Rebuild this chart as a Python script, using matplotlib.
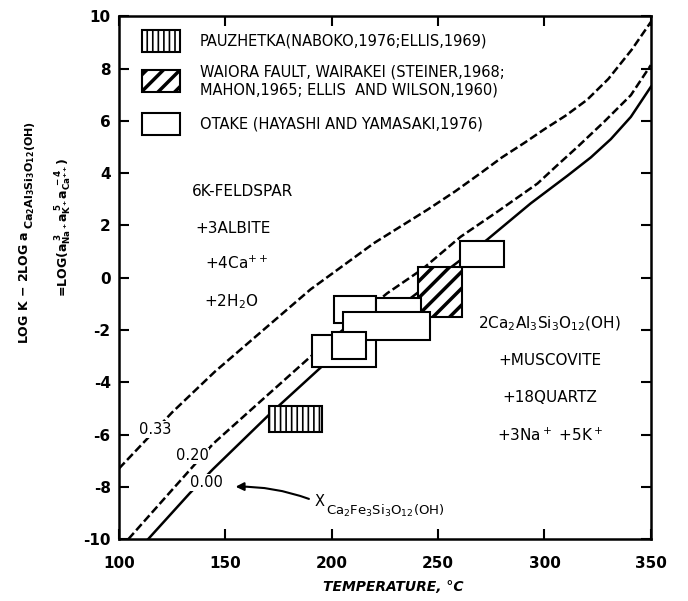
import numpy as np
import matplotlib.pyplot as plt
from matplotlib.patches import Rectangle

plt.rcParams['font.family'] = 'DejaVu Sans'
plt.rcParams['mathtext.default'] = 'regular'
plt.rcParams['axes.unicode_minus'] = False

# Equilibrium curves, labelled by mole fraction of the Fe end member
t_033 = [100, 125, 145, 165, 190, 220, 245, 258, 270, 280, 291, 300, 310, 320, 330, 341, 350]
v_033 = [-7.3, -5.15, -3.6, -2.2, -0.45, 1.33, 2.6, 3.3, 4.0, 4.6, 5.18, 5.68, 6.2, 6.8, 7.6, 8.72, 9.78]

t_020 = [104.4, 120, 144.4, 165, 189.9, 226, 242.5, 260.5, 277.8, 296.7, 306, 315.5, 328, 340.6, 350]
v_020 = [-10, -8.57, -6.34, -4.84, -3.03, -0.6, 0.32, 1.56, 2.52, 3.6, 4.3, 5.0, 5.96, 6.98, 8.13]

t_000 = [113.7, 133.2, 144.1, 170.7, 197.2, 273, 293.5, 310.8, 321.8, 331.2, 340.6, 350]
v_000 = [-10, -8.25, -7.33, -5.23, -3.26, 1.45, 2.84, 3.9, 4.6, 5.3, 6.15, 7.3]

# Field data ranges: temperature span and log value span
pauz_t = (170.5, 195.5)
pauz_v = (-5.9, -4.9)

waiora_t = (240.5, 261)
waiora_v = (-1.5, 0.4)

otake_t0 = [201, 221, 190.5, 205.5, 200, 260.5]
otake_t1 = [221, 242, 221, 246, 216, 281]
otake_lo = [-1.74, -1.6, -3.4, -2.4, -3.12, 0.42]
otake_hi = [-0.70, -0.76, -2.2, -1.3, -2.09, 1.40]

x_ticks = [100, 150, 200, 250, 300, 350]
y_ticks = [-10, -8, -6, -4, -2, 0, 2, 4, 6, 8, 10]

fig = plt.figure(figsize=(6.88, 6.01), dpi=100)
ax = fig.add_axes([0.173, 0.103, 0.773, 0.870])

lw = 1.8
ax.plot(t_000, v_000, color='black', lw=lw, zorder=2)
ax.plot(t_020, v_020, color='black', lw=lw, dashes=(3.3, 1.4), zorder=2)
ax.plot(t_033, v_033, color='black', lw=lw, dashes=(3.3, 1.4), zorder=2)

def box(t, v, hatch=None, hlw=1.0):
    r = Rectangle((t[0], v[0]), t[1] - t[0], v[1] - v[0], facecolor='white',
                  edgecolor='black', lw=1.5, hatch=hatch, zorder=3)
    try:
        r.set_hatch_linewidth(hlw)
    except AttributeError:
        pass
    ax.add_patch(r)
    return r

box(waiora_t, waiora_v, hatch='//', hlw=2.5)
for t0, t1, lo, hi in zip(otake_t0, otake_t1, otake_lo, otake_hi):
    box((t0, t1), (lo, hi))
box(pauz_t, pauz_v, hatch='|||', hlw=1.2)

# Curve labels
lab = dict(fontsize=10.5, ha='center', va='center', zorder=4,
           bbox=dict(facecolor='white', edgecolor='none', pad=0.5))
ax.text(117, -5.8, '0.33', **lab)
ax.text(134.3, -6.82, '0.20', **lab)
ax.text(141, -7.84, '0.00', **lab)

ax.annotate('', xy=(153.5, -8.0), xytext=(190.5, -8.5),
            arrowprops=dict(arrowstyle='-|>', color='black', lw=1.5,
                            connectionstyle='arc3,rad=0.1', mutation_scale=12))
ax.text(191.8, -8.55, 'X', fontsize=10.5, ha='left', va='center')
ax.text(197.3, -8.92, 'Ca$_2$Fe$_3$Si$_3$O$_{12}$(OH)', fontsize=9.5, ha='left', va='center')

# Reaction written across the diagram
left_side = ['6K-FELDSPAR', '+3ALBITE', '+4Ca$^{++}$', '+2H$_2$O']
left_x = [158, 153.8, 155.3, 152.7]
left_y = [3.28, 1.88, 0.54, -0.93]
for s, x, y in zip(left_side, left_x, left_y):
    ax.text(x, y, s, fontsize=11, ha='center', va='center')

right_side = ['2Ca$_2$Al$_3$Si$_3$O$_{12}$(OH)', '+MUSCOVITE', '+18QUARTZ', '+3Na$^+$ +5K$^+$']
right_y = [-1.75, -3.15, -4.6, -6.04]
for s, y in zip(right_side, right_y):
    ax.text(302.5, y, s, fontsize=11, ha='center', va='center')

# Key
key_hatch = ['|||', '//', None]
key_hlw = [1.2, 2.5, 1.0]
key_y = [0.931, 0.855, 0.772]
key_text = ['PAUZHETKA(NABOKO,1976;ELLIS,1969)',
            'WAIORA FAULT, WAIRAKEI (STEINER,1968;\nMAHON,1965; ELLIS  AND WILSON,1960)',
            'OTAKE (HAYASHI AND YAMASAKI,1976)']
for h, hl, y, s in zip(key_hatch, key_hlw, key_y, key_text):
    r = Rectangle((0.043, y), 0.072, 0.042, transform=ax.transAxes, facecolor='white',
                  edgecolor='black', lw=1.5, hatch=h)
    try:
        r.set_hatch_linewidth(hl)
    except AttributeError:
        pass
    ax.add_patch(r)
    ax.text(0.152, y + 0.021, s, transform=ax.transAxes, fontsize=10.5,
            ha='left', va='center', linespacing=1.3)

ax.set_xlim(100, 350)
ax.set_ylim(-10, 10)
ax.set_xticks(x_ticks)
ax.set_yticks(y_ticks)
ax.tick_params(direction='in', length=7, width=1.5, top=True, right=True, labelsize=11)
ax.tick_params(axis='x', pad=12)
ax.tick_params(axis='y', pad=6)
for lbl in ax.get_xticklabels() + ax.get_yticklabels():
    lbl.set_fontweight('bold')
for sp in ax.spines.values():
    sp.set_linewidth(1.8)

# Y axis title, two rotated lines; the activity subscript is set as its own text
ylab = dict(rotation=90, rotation_mode='anchor', fontweight='bold', va='baseline')
fig.text(0.041, 0.617, r'LOG K $-$ 2LOG a', ha='right', fontsize=9, **ylab)
fig.text(0.048, 0.619, 'Ca$_2$Al$_3$Si$_3$O$_{12}$(OH)', ha='left', fontsize=8, **ylab)
fig.text(0.092, 0.622, r'=LOG(a$_{Na^+}^{\ 3}$a$_{K^+}^{\ 5}$a$_{Ca^{++}}^{\ -4}$)', rotation=90,
         ha='center', va='center', fontsize=9, fontweight='bold')
fig.text(0.571, 0.023, 'TEMPERATURE, °C', ha='center', va='center', fontsize=10,
         fontweight='bold', style='italic')

fig.savefig('out.png', dpi=100)
